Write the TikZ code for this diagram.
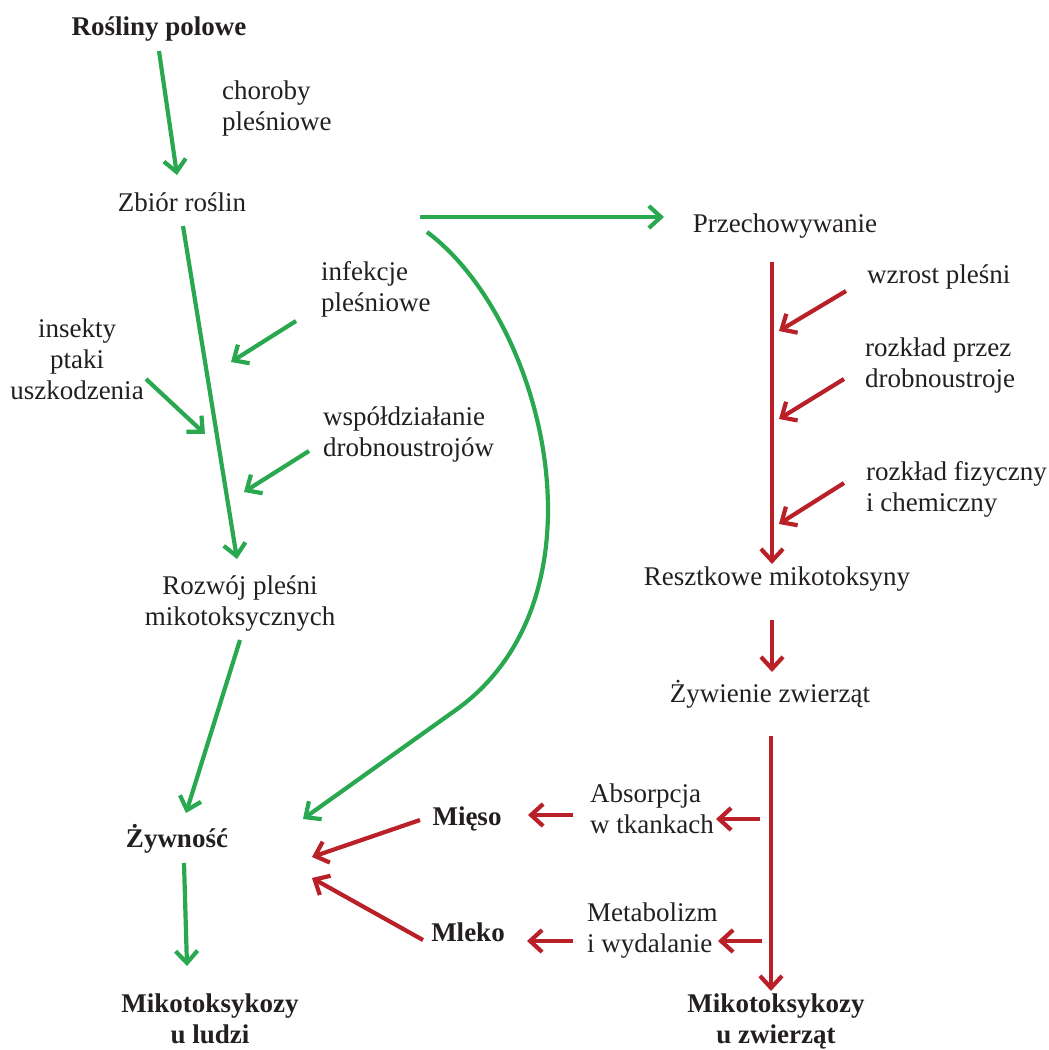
\documentclass[tikz,border=0pt]{standalone}
\usepackage{fontspec}
\setmainfont{Liberation Serif}
\usetikzlibrary{arrows.meta}
\definecolor{grn}{RGB}{41,168,80}
\definecolor{rd}{RGB}{186,32,40}
\definecolor{txt}{RGB}{35,31,32}
\begin{document}
\begin{tikzpicture}[x=1pt,y=-1pt,
  lb/.style={font=\fontsize{27}{31}\selectfont, inner sep=0pt, text=txt},
  lbb/.style={font=\fontsize{27}{31}\selectfont\bfseries, inner sep=0pt, text=txt},
  garr/.style={draw=grn, line width=4.2pt, -{Straight Barb[length=12pt,width=22pt]}},
  rarr/.style={draw=rd, line width=4.2pt, -{Straight Barb[length=12pt,width=22pt]}}]
\useasboundingbox (0,0) rectangle (1049,1050);
% texts (base anchor of multi-line nodes = last line)
\node[lbb, anchor=base] (rp) at (159,35) {Rośliny polowe};
\node[lb, anchor=base west, align=left] (chor) at (222,130) {choroby\\pleśniowe};
\node[lb, anchor=base] (zb) at (182,211) {Zbiór roślin};
\node[lb, anchor=base] (prz) at (785,232) {Przechowywanie};
\node[lb, anchor=base west, align=left] (inf) at (321,311) {infekcje\\pleśniowe};
\node[lb, anchor=base, align=center] (ins) at (77,399) {insekty\\ptaki\\uszkodzenia};
\node[lb, anchor=base west, align=left] (wsp) at (323,456) {współdziałanie\\drobnoustrojów};
\node[lb, anchor=base, align=center] (roz) at (240,625) {Rozwój pleśni\\mikotoksycznych};
\node[lbb, anchor=base] (zyw) at (177,847) {Żywność};
\node[lbb, anchor=base, align=center] (mlu) at (210,1043) {Mikotoksykozy\\u ludzi};
\node[lb, anchor=base west] (wzr) at (867,283) {wzrost pleśni};
\node[lb, anchor=base west, align=left] (rpd) at (865,387) {rozkład przez\\drobnoustroje};
\node[lb, anchor=base west, align=left] (rfc) at (866,511) {rozkład fizyczny\\i chemiczny};
\node[lb, anchor=base] (res) at (777,585) {Resztkowe mikotoksyny};
\node[lb, anchor=base] (zwz) at (770,702) {Żywienie zwierząt};
\node[lb, anchor=base west, align=left] (abs) at (590,833) {Absorpcja\\w tkankach};
\node[lbb, anchor=base] (mie) at (467,825) {Mięso};
\node[lb, anchor=base west, align=left] (met) at (587,952) {Metabolizm\\i wydalanie};
\node[lbb, anchor=base] (mle) at (468,941) {Mleko};
\node[lbb, anchor=base, align=center] (mzw) at (776,1043) {Mikotoksykozy\\u zwierząt};
% coordinates
\coordinate (a1s) at (159,51); \coordinate (a1e) at (177,175);
\coordinate (a2s) at (183,226); \coordinate (a2e) at (237,559);
\coordinate (hs) at (420,217); \coordinate (he) at (664,217);
\coordinate (cs) at (427,232); \coordinate (cm) at (453,712); \coordinate (ce) at (303,819);
\coordinate (ifs) at (296,321); \coordinate (ife) at (231,362);
\coordinate (iss) at (146,379); \coordinate (ise) at (205,434);
\coordinate (wss) at (309,451); \coordinate (wse) at (244,492);
\coordinate (rzs) at (240,640); \coordinate (rze) at (186,813);
\coordinate (zys) at (184,863); \coordinate (zye) at (187,966);
\coordinate (v1s) at (772,262); \coordinate (v1e) at (772,564);
\coordinate (wzs) at (846,291); \coordinate (wze) at (779,331);
\coordinate (rps) at (844,379); \coordinate (rpe) at (779,419);
\coordinate (rfs) at (844,483); \coordinate (rfe) at (779,524);
\coordinate (v2s) at (772,620); \coordinate (v2e) at (772,672);
\coordinate (v3s) at (771,736); \coordinate (v3e) at (771,991);
\coordinate (abs1) at (760,819); \coordinate (abe1) at (716,819);
\coordinate (abs2) at (573,815); \coordinate (abe2) at (528,815);
\coordinate (mis) at (420,820); \coordinate (mie2) at (312,857);
\coordinate (mts1) at (762,941); \coordinate (mte1) at (718,941);
\coordinate (mts2) at (573,941); \coordinate (mte2) at (527,941);
\coordinate (mls) at (423,940); \coordinate (mle2) at (312,878);
% green arrows
\draw[garr] (a1s) -- (a1e);
\draw[garr] (a2s) -- (a2e);
\draw[garr] (hs) -- (he);
\draw[garr] (cs) .. controls (545,320) and (615,600) .. (cm) -- (ce);
\draw[garr] (ifs) -- (ife);
\draw[garr] (iss) -- (ise);
\draw[garr] (wss) -- (wse);
\draw[garr] (rzs) -- (rze);
\draw[garr] (zys) -- (zye);
% red arrows
\draw[rarr] (v1s) -- (v1e);
\draw[rarr] (wzs) -- (wze);
\draw[rarr] (rps) -- (rpe);
\draw[rarr] (rfs) -- (rfe);
\draw[rarr] (v2s) -- (v2e);
\draw[rarr] (v3s) -- (v3e);
\draw[rarr] (abs1) -- (abe1);
\draw[rarr] (abs2) -- (abe2);
\draw[rarr] (mis) -- (mie2);
\draw[rarr] (mts1) -- (mte1);
\draw[rarr] (mts2) -- (mte2);
\draw[rarr] (mls) -- (mle2);
\end{tikzpicture}
\end{document}
